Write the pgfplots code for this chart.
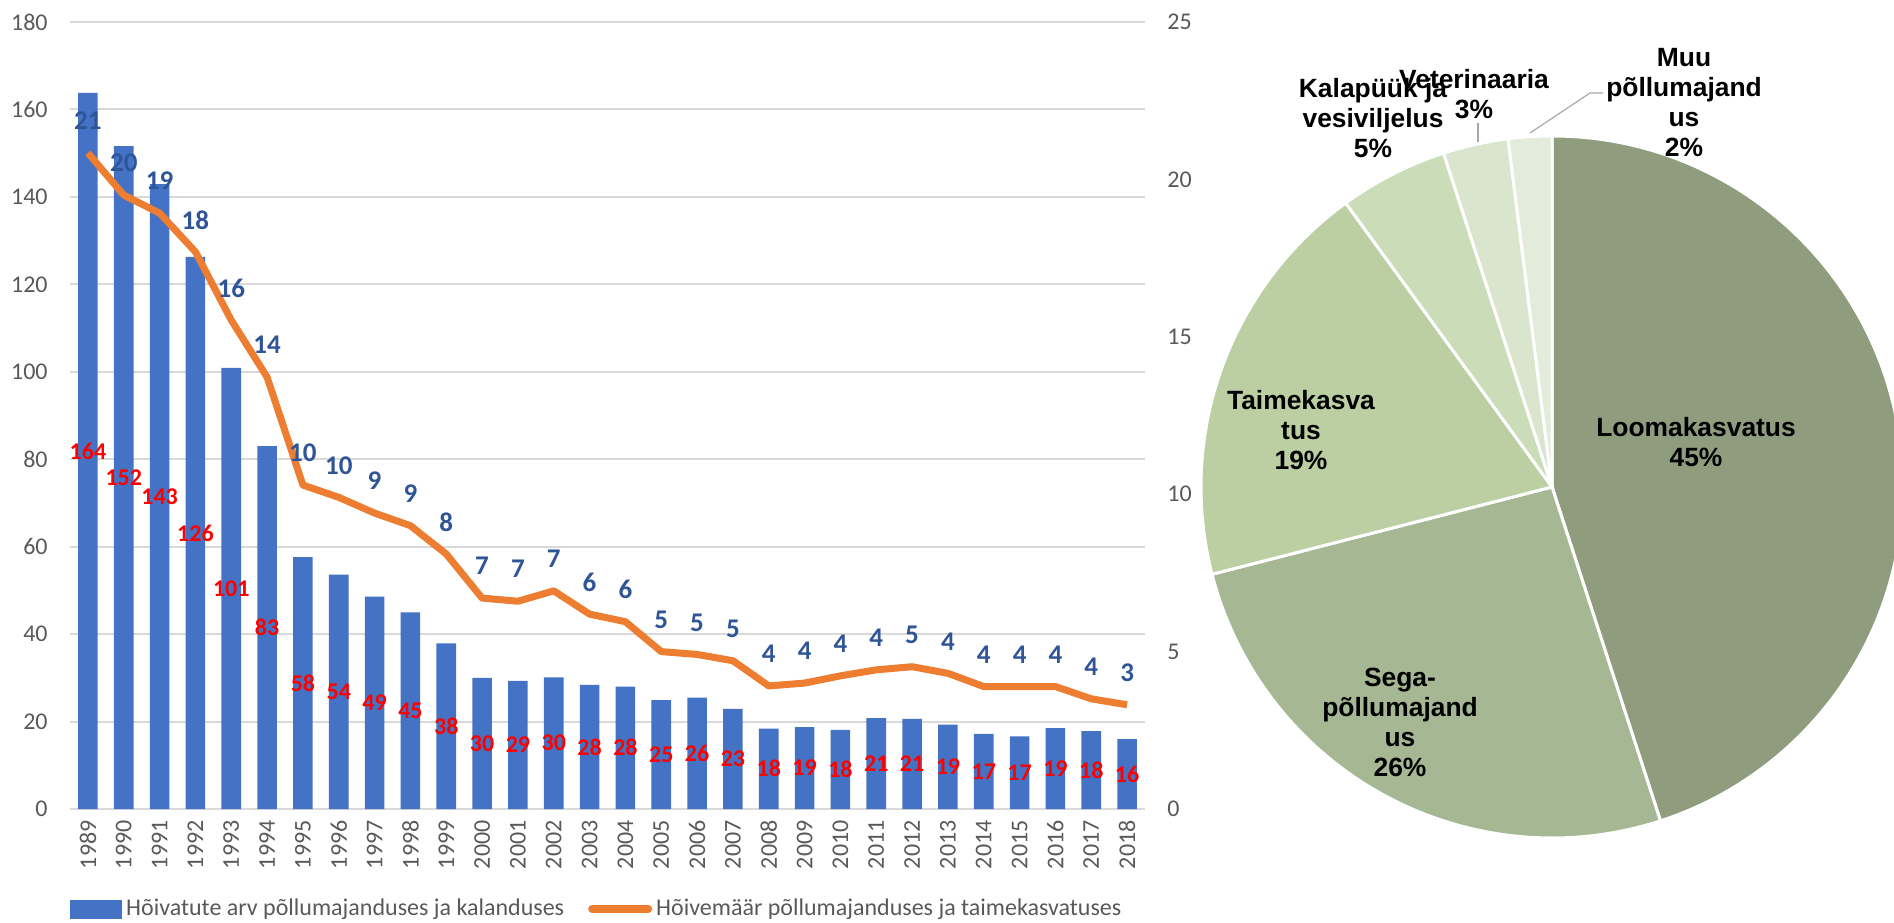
\documentclass[border=0pt]{standalone}
\usepackage{pgfplots}
\pgfplotsset{compat=1.18}
\usepackage{fontspec}
\setmainfont{Carlito}
\newfontfamily\pief{Liberation Sans}
\definecolor{barblue}{HTML}{4472C4}
\definecolor{lineorange}{HTML}{ED7D31}
\definecolor{lblblue}{HTML}{2F5597}
\definecolor{tickgray}{HTML}{595959}
\definecolor{gridgray}{HTML}{D9D9D9}
\definecolor{pieA}{HTML}{8F9D7E}
\definecolor{pieB}{HTML}{A6B893}
\definecolor{pieC}{HTML}{BBCFA3}
\definecolor{pieD}{HTML}{CBDCB8}
\definecolor{pieE}{HTML}{D9E5CC}
\definecolor{pieF}{HTML}{E3ECDA}
\begin{document}
\begin{tikzpicture}
\useasboundingbox (0,0) rectangle (947pt,461pt);
\clip (0,0) rectangle (947pt,461pt);
\pgfplotsset{
  base/.style={
    at={(35pt,56.5pt)}, anchor=south west,
    width=537.5pt, height=393.5pt, scale only axis,
    xmin=-0.5, xmax=29.5,
    axis line style={draw=none}, tick style={draw=none},
    /pgf/number format/assume math mode=true,
    ticklabel style={font=\fontsize{12}{14}\selectfont, color=tickgray},
  }
}
% ---------- bars ----------
\begin{axis}[base,
  ymin=0, ymax=180, ytick={0,20,...,180},
  ymajorgrids, grid style={gridgray, line width=1pt},
  xtick={0,...,29},
  xticklabels={1989,1990,1991,1992,1993,1994,1995,1996,1997,1998,1999,2000,2001,2002,2003,2004,2005,2006,2007,2008,2009,2010,2011,2012,2013,2014,2015,2016,2017,2018},
  xticklabel style={rotate=90, anchor=east, inner sep=0pt},
  xticklabel shift=5.5pt,
  yticklabel style={anchor=east, inner sep=0pt},
  yticklabel shift=11pt,
]
\addplot[ybar, bar width=9.8pt, fill=barblue, draw=none,
  point meta=explicit symbolic,
  nodes near coords,
  visualization depends on=rawy\as\rawy,
  every node near coord/.append style={anchor=center, yshift={-\rawy*1.09306pt},
    font=\fontsize{12}{14}\selectfont\bfseries, text=red, inner sep=0pt},
] coordinates {
(0,163.8)[164] (1,151.6)[152] (2,142.9)[143] (3,126.3)[126] (4,100.9)[101]
(5,83.0)[83] (6,57.6)[58] (7,53.6)[54] (8,48.6)[49] (9,45.0)[45]
(10,37.9)[38] (11,30.0)[30] (12,29.3)[29] (13,30.1)[30] (14,28.4)[28]
(15,28.0)[28] (16,24.9)[25] (17,25.5)[26] (18,22.9)[23] (19,18.4)[18]
(20,18.7)[19] (21,18.1)[18] (22,20.8)[21] (23,20.6)[21] (24,19.3)[19]
(25,17.2)[17] (26,16.6)[17] (27,18.5)[19] (28,17.8)[18] (29,16.0)[16]
};
\end{axis}
% ---------- line ----------
\begin{axis}[base,
  ymin=0, ymax=25, ytick={0,5,...,25},
  axis y line*=right, hide x axis,
  yticklabel style={anchor=west, inner sep=0pt},
  yticklabel shift=11pt,
  legend style={at={(0,-0.1271)}, anchor=west, draw=none, fill=none,
    legend columns=2, font=\fontsize{12}{14}\selectfont, text=tickgray,
    inner sep=0pt, /tikz/every even column/.append style={column sep=10pt}},
  legend cell align=left,
]
\addlegendimage{legend image code/.code={\fill[barblue] (0pt,-4.5pt) rectangle (25.5pt,4.5pt);}}
\addlegendentry{Hõivatute arv põllumajanduses ja kalanduses}
\addplot[lineorange, line width=3.5pt, line join=round, mark=none,
  legend image code/.code={\draw[lineorange, line width=4pt, line cap=round] (1pt,0pt) -- (29pt,0pt);},
  point meta=explicit symbolic,
  nodes near coords,
  every node near coord/.append style={anchor=center, yshift=16pt,
    font=\fontsize{13.5}{15}\selectfont\bfseries, text=lblblue, inner sep=0pt},
] coordinates {
(0,20.84)[21] (1,19.5)[20] (2,18.93)[19] (3,17.7)[18] (4,15.53)[16]
(5,13.72)[14] (6,10.29)[10] (7,9.9)[10] (8,9.4)[9] (9,9.0)[9]
(10,8.1)[8] (11,6.7)[7] (12,6.6)[7] (13,6.93)[7] (14,6.19)[6]
(15,5.95)[6] (16,5.0)[5] (17,4.91)[5] (18,4.71)[5] (19,3.91)[4]
(20,4.0)[4] (21,4.23)[4] (22,4.42)[4] (23,4.52)[5] (24,4.31)[4]
(25,3.89)[4] (26,3.89)[4] (27,3.89)[4] (28,3.5)[4] (29,3.31)[3]
};
\addlegendentry{Hõivemäär põllumajanduses ja taimekasvatuses}
\end{axis}
% ---------- pie ----------
% shares (%): Loomakasvatus 45, Sega 26, Taime 19, Kalapyyk 5, Veterinaaria 3, Muu 2
\pgfmathsetmacro\aA{90}
\pgfmathsetmacro\aB{\aA-3.6*45}
\pgfmathsetmacro\aC{\aB-3.6*26}
\pgfmathsetmacro\aD{\aC-3.6*19}
\pgfmathsetmacro\aE{\aD-3.6*5}
\pgfmathsetmacro\aF{\aE-3.6*3}
\pgfmathsetmacro\aG{\aF-3.6*2}
\begin{axis}[at={(776pt,217.5pt)}, anchor=center, hide axis,
  x=175.5pt, y=175.5pt, xmin=-1, xmax=1, ymin=-1, ymax=1, clip=false]
\def\R{175.5pt}
\fill[pieA, draw=white, line width=1.5pt] (axis cs:0,0) -- ++(\aA:\R) arc[start angle=\aA, end angle=\aB, radius=\R] -- cycle;
\fill[pieB, draw=white, line width=1.5pt] (axis cs:0,0) -- ++(\aB:\R) arc[start angle=\aB, end angle=\aC, radius=\R] -- cycle;
\fill[pieC, draw=white, line width=1.5pt] (axis cs:0,0) -- ++(\aC:\R) arc[start angle=\aC, end angle=\aD, radius=\R] -- cycle;
\fill[pieD, draw=white, line width=1.5pt] (axis cs:0,0) -- ++(\aD:\R) arc[start angle=\aD, end angle=\aE, radius=\R] -- cycle;
\fill[pieE, draw=white, line width=1.5pt] (axis cs:0,0) -- ++(\aE:\R) arc[start angle=\aE, end angle=\aF, radius=\R] -- cycle;
\fill[pieF, draw=white, line width=1.5pt] (axis cs:0,0) -- ++(\aF:\R) arc[start angle=\aF, end angle=\aG, radius=\R] -- cycle;
\end{axis}
% pie labels
\begin{scope}[every node/.style={align=center, font=\pief\bfseries\fontsize{13.2}{15}\selectfont, inner sep=0pt}]
\node at (848pt,240pt) {Loomakasvatus\\45\%};
\node at (700pt,99.75pt) {Sega-\\põllumajand\\us\\26\%};
\node at (650.5pt,245.75pt) {Taimekasva\\tus\\19\%};
\node at (686.5pt,402pt) {Kalapüük ja\\vesiviljelus\\5\%};
\node at (737pt,414pt) {Veterinaaria\\3\%};
\node at (842pt,409.5pt) {Muu\\põllumajand\\us\\2\%};
\end{scope}
\draw[gray!70, line width=0.6pt] (739pt,399.5pt) -- (739pt,390pt);
\draw[gray!70, line width=0.6pt] (765pt,394.5pt) -- (795pt,414.5pt) -- (801.5pt,414.5pt);
\end{tikzpicture}
\end{document}
